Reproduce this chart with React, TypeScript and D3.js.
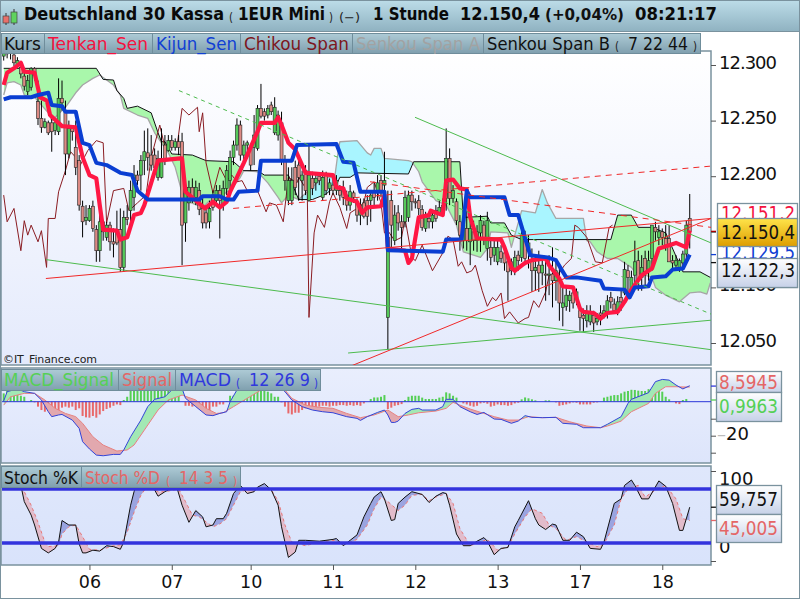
import React, { useEffect, useRef } from 'react';
import * as d3 from 'd3';

type Pt = [number, number];
type Candle = [number, number, number, number]; // open, high, low, close

// hourly candles, one list per trading day
const day05: Candle[] = [
  [12308,12320,12304,12315],[12316,12320,12306,12310],[12311,12322,12305,12318],[12309,12313,12299,12302],[12300,12307,12298,12304],
  [12298,12303,12288,12292],[12290,12295,12277,12281],[12276,12291,12273,12286],[12280,12298,12277,12297],[12297,12298,12286,12291],
  [12267,12286,12246,12252],[12252,12268,12239,12244],[12244,12252,12243,12249],[12248,12250,12237,12239],[12248,12252,12222,12240],
  [12241,12250,12237,12248],[12240,12288,12237,12270],[12270,12286,12259,12266],[12259,12268,12201,12220],[12220,12250,12216,12243],
  [12243,12246,12232,12240],[12226,12250,12201,12208],[12214,12219,12169,12174],[12173,12178,12145,12159],[12160,12174,12156,12163],
];
const day06: Candle[] = [
  [12160,12174,12159,12171],[12173,12178,12150,12153],[12152,12156,12123,12133],[12133,12169,12123,12159],[12159,12160,12142,12150],
  [12145,12159,12142,12156],[12156,12159,12133,12141],[12141,12153,12127,12139],[12152,12169,12138,12140],[12152,12171,12114,12118],
  [12118,12169,12114,12163],[12163,12174,12156,12161],[12169,12196,12156,12187],[12181,12210,12169,12201],[12201,12205,12192,12196],
  [12201,12219,12187,12214],[12214,12241,12201,12222],[12221,12243,12205,12217],[12219,12237,12205,12210],[12219,12225,12201,12208],
  [12199,12223,12196,12216],[12199,12243,12198,12216],[12228,12237,12210,12216],[12223,12237,12222,12232],
];
const day07: Candle[] = [
  [12232,12237,12223,12226],[12226,12234,12223,12231],[12231,12237,12219,12226],[12231,12239,12120,12156],[12158,12196,12141,12190],
  [12176,12196,12169,12190],[12190,12198,12176,12181],[12181,12196,12174,12190],[12187,12194,12165,12170],[12171,12183,12153,12158],
  [12167,12174,12153,12158],[12159,12178,12153,12171],[12183,12187,12169,12172],[12178,12192,12174,12187],[12187,12192,12144,12178],
  [12174,12196,12169,12189],[12189,12210,12183,12205],[12196,12223,12187,12217],[12217,12232,12210,12228],[12228,12252,12223,12246],
  [12246,12250,12214,12219],[12219,12232,12214,12228],[12228,12232,12216,12230],
];
const day10: Candle[] = [
  [12226,12228,12205,12210],[12226,12255,12210,12237],[12225,12264,12223,12261],[12261,12283,12252,12254],[12258,12261,12250,12254],
  [12255,12264,12252,12261],[12264,12267,12255,12258],[12239,12271,12237,12262],[12237,12259,12232,12255],[12248,12258,12210,12214],
  [12214,12219,12187,12196],[12178,12208,12174,12196],[12178,12208,12174,12196],[12208,12214,12183,12190],[12210,12214,12178,12199],
  [12196,12205,12178,12201],[12205,12210,12183,12187],[12178,12228,12177,12201],[12198,12204,12183,12189],[12194,12201,12187,12198],
  [12200,12201,12192,12196],[12181,12205,12178,12199],[12201,12204,12183,12187],[12189,12198,12183,12194],
];
const day11: Candle[] = [
  [12192,12198,12183,12187],[12187,12201,12183,12196],[12187,12192,12178,12183],[12190,12196,12174,12181],[12183,12187,12169,12174],
  [12174,12192,12169,12186],[12185,12187,12176,12181],[12176,12180,12159,12165],[12165,12180,12156,12174],[12176,12180,12162,12164],
  [12178,12183,12156,12164],[12178,12187,12159,12183],[12187,12194,12174,12181],[12186,12201,12178,12194],[12196,12201,12181,12187],
  [12192,12222,12186,12196],[12073,12187,12044,12145],[12178,12187,12133,12156],[12142,12174,12138,12165],[12167,12174,12151,12158],
  [12159,12165,12133,12154],[12159,12187,12154,12181],[12163,12187,12159,12183],[12183,12187,12169,12177],
];
const day12: Candle[] = [
  [12177,12180,12171,12176],[12178,12183,12165,12171],[12170,12174,12151,12154],[12153,12168,12150,12163],[12162,12165,12153,12159],
  [12159,12169,12153,12165],[12169,12174,12159,12162],[12167,12178,12165,12172],[12168,12180,12165,12174],[12180,12243,12169,12216],
  [12216,12225,12174,12180],[12180,12192,12176,12187],[12177,12180,12156,12160],[12159,12165,12133,12147],[12142,12165,12135,12156],
  [12153,12169,12133,12142],[12141,12168,12120,12153],[12150,12160,12133,12142],[12142,12156,12132,12150],[12149,12165,12132,12160],
  [12156,12160,12138,12145],[12135,12168,12124,12160],[12136,12142,12120,12127],[12129,12142,12123,12136],
];
const day13: Candle[] = [
  [12123,12142,12120,12136],[12132,12138,12122,12126],[12131,12135,12115,12122],[12123,12129,12088,12114],[12123,12126,12111,12115],
  [12117,12133,12111,12127],[12129,12133,12115,12124],[12127,12153,12123,12147],[12145,12151,12120,12126],[12133,12147,12117,12140],
  [12124,12135,12096,12115],[12115,12129,12097,12118],[12120,12133,12096,12113],[12113,12129,12102,12120],[12112,12124,12088,12111],
  [12111,12129,12093,12112],[12112,12136,12082,12106],[12106,12124,12088,12115],[12106,12120,12070,12086],[12082,12103,12065,12086],
  [12083,12102,12079,12093],[12088,12097,12078,12093],[12095,12099,12081,12086],[12090,12099,12084,12096],
];
const day17: Candle[] = [
  [12079,12084,12061,12073],[12075,12081,12060,12072],[12070,12084,12064,12078],[12069,12084,12066,12078],[12075,12079,12060,12068],
  [12069,12077,12066,12072],[12077,12084,12066,12075],[12076,12084,12072,12079],[12078,12093,12072,12088],[12091,12096,12081,12087],
  [12085,12090,12078,12079],[12078,12092,12075,12087],[12091,12097,12079,12087],[12095,12123,12093,12116],[12115,12120,12093,12109],
  [12097,12115,12093,12109],[12111,12142,12100,12123],[12124,12133,12097,12106],[12109,12129,12097,12118],[12126,12133,12102,12114],
  [12115,12133,12106,12124],[12126,12156,12115,12156],[12154,12159,12142,12150],[12145,12156,12138,12150],
];
const day18: Candle[] = [
  [12150,12153,12138,12145],[12144,12156,12133,12138],[12144,12156,12123,12123],[12124,12129,12117,12122],[12120,12129,12115,12124],
  [12118,12126,12114,12124],[12122,12133,12117,12130],[12130,12160,12124,12156],[12162,12184,12135,12150.4],
];
const candles = [...day05, ...day06, ...day07, ...day10, ...day11, ...day12, ...day13, ...day17, ...day18];

const tenkan: Pt[] = [
  [0,12282],[1,12293],[3,12297],[5,12302],[6,12294],[9,12293],[10.6,12271],[12.6,12268],[13.5,12255],[17,12245],[21,12244],[23,12217],[25,12201],[27,12198],
  [28,12174],[29,12152],[33,12151],[34,12143],[36,12145],[38,12165],[40,12167],[41,12174],[45,12214],[51.4,12216],[52,12216],[53,12186],[56,12178],[58.7,12171],
  [61,12177],[63,12172],[65,12177],[66,12186],[70,12212],[74,12240],[75,12248],[79,12248],[80,12253],[81,12246],[83,12230],[85,12224],[88,12203],[96,12201],
  [97,12190],[99,12189],[100,12180],[103,12177],[104.5,12167],[106,12172],[110,12173],[111,12183],[112,12135],[117,12133],[118,12122],[119,12126],[121,12163],
  [124,12165],[124.5,12169],[128,12165],[129,12196],[131,12197],[133,12189],[135,12188],[136,12163],[138,12144],[145,12143],[146,12136],[148,12118],[149,12115],
  [152,12122],[154,12124.5],[158,12126],[159,12120],[162,12108],[163,12101],[166,12100],[168,12081],[169,12078],[172,12077],[174,12072],[176,12077],[179,12078],
  [181,12087],[183,12098],[186,12111],[189,12117],[191,12135],[194,12138],[196,12140],[199,12136],[200,12151.2],
];
const kijun: Pt[] = [
  [0,12269],[2,12271],[8,12271],[10,12273],[13,12275],[14,12264],[17,12263],[18,12258],[21,12258],[23,12230],[25,12228],[27,12212],[30,12210],[34,12203],[37.4,12201],
  [39,12187],[42,12179],[57,12179],[58,12182],[63,12182],[65,12179],[67,12179],[68.5,12186],[74,12187],[75,12214],[84,12214],[85.5,12228],[97,12229],[99,12213],
  [102,12212],[104,12186],[111,12186],[112,12133.5],[128,12132],[129,12143],[133.5,12143],[135,12187],[136,12181],[146,12181],[147.5,12165],[150,12165],[153.5,12129],
  [158.5,12127],[161,12124.5],[164,12109],[167,12109],[174,12106],[175,12099],[181,12098],[182.5,12091],[184,12100],[188,12101],[189,12109],[193,12110],[195,12116],
  [198,12117],[200,12129.5],
];
const chikou: Pt[] = [
  [0,12183],[1,12159],[3,12171],[5,12133],[6,12160],[7,12147],[8,12156],[10,12141],[11,12151],[12.5,12118],[13,12162],[15,12162],[16,12186],[18,12205],[19.5,12222],
  [21,12217],[22,12208],[24.5,12223],[27,12232],[29,12230],[30,12158],[32,12187],[35,12189],[36.5,12169],[39,12176],[41.5,12183],[43,12217],[45.5,12246],[47,12226],
  [48.5,12232],[50.5,12226],[52,12261],[54,12255],[56.5,12262],[57,12240],[58,12257],[59,12212],[61,12185],[63,12208],[65,12196],[66.5,12201],[68,12195],[69.5,12196],
  [71,12187],[74,12187],[76.5,12168],[77.5,12176],[79.5,12174],[81.5,12159],[83,12199],[85.5,12194],[86,12199],[88.5,12187],[89,12073],[90.5,12149],[91.5,12165],
  [93.5,12154],[95,12177],[96,12185],[98,12172],[100,12153],[101,12167],[103,12171],[105,12176],[106,12190],[108,12195],[110,12176],[111,12149],[112,12151],[114,12142],
  [116,12145],[117,12162],[119,12127],[120,12124],[122,12138],[125,12115],[128,12131],[129.5,12146],[131,12143],[132.5,12119],[133.5,12123],[135,12113],[136.5,12115],
  [137.5,12120],[139.5,12097],[141,12083],[142.5,12091],[143.5,12088],[145,12095],[146,12072],[147.5,12078],[150,12068],[152,12072],[153,12073],[154.5,12088],[156,12082],
  [158,12096],[159,12111],[162,12113],[163.5,12120],[165.5,12126],[166.5,12156],[167.5,12154],[170,12145],[172.5,12123],[174.5,12122],[176.5,12154],[177.5,12156],
];
const senkouA: Pt[] = [
  [0,12273],[1,12284],[3,12285],[5,12282],[6,12273],[9,12271],[13,12257],[14,12250],[18,12262],[21,12275],[23,12282],[26,12288],[28,12291],[32,12282],[34,12273],[35,12261],
  [39,12255],[42,12252],[44,12239],[46,12230],[48,12221],[50,12208],[52,12185],[54,12177],[58,12172],[60,12178],[63,12180],[65,12186],[66,12187],[69,12199],[70,12205],
  [74,12204],[77,12194],[80,12181],[81,12176],[83,12183],[86,12179],[90,12190],[93,12199],[96.5,12199],[97.5,12222],[98,12231],[103,12232],[106,12221],[107,12219],[108,12225],
  [110,12225],[111,12216],[118,12214],[119,12213],[121,12204],[122,12195],[126,12178],[129,12174],[132,12156],[134,12132],[139,12127],[141,12135],[142,12150],[147,12149],
  [148,12136],[151,12169],[155,12167],[157,12188],[158.5,12176],[161,12162],[169,12162],[170,12142],[171,12141],[173,12132],[176,12126],[179,12126],[182,12120],[183,12118],
  [184,12114],[189,12109],[190,12100],[193,12093],[197,12087],[200,12095],[203,12096],[205,12094],[206,12104],
];
const senkouB: Pt[] = [
  [0,12297],[27,12297],[29,12287],[32,12286.5],[33,12277],[35,12270],[36,12261],[39,12263],[43,12257],[45,12239],[46,12231],[47,12231],[49,12220],[55,12219],[59,12214],
  [67,12213],[70,12205],[74,12205],[76,12201],[83,12201],[86,12179],[90,12179],[94,12184],[97,12192],[98,12199],[101,12199],[103,12203],[118,12202],[119.5,12213],[133,12213],
  [134,12163],[141,12164],[142,12158],[146,12158],[148,12147],[151,12143],[177,12143],[179,12165],[183,12165],[185,12154],[189,12154],[193,12149],[198,12114],[203,12114],[206,12109],
];

// trend lines drawn on the chart: start and end as bar, price
const greenLines: [Pt, Pt][] = [
  [[12.3,12125],[206.2,12044]],
  [[119.9,12253],[206.2,12140]],
  [[100.4,12041],[206.2,12070.5]],
];
const greenDashed: [Pt, Pt][] = [[[51.1,12277],[206.2,12076]]];
const redLines: [Pt, Pt][] = [
  [[12.3,12108],[206.2,12162]],
  [[101,12029],[206.2,12162]],
];
const redDashed: [Pt, Pt][] = [
  [[66.9,12171],[205.9,12209]],
  [[106.8,12195],[206.2,12154]],
];

const priceTicks = [12300, 12250, 12200, 12150, 12100, 12050];
const dayBars = [25, 49, 72, 96, 120, 144, 168, 192];
const dayLabels = ['06', '07', '10', '11', '12', '13', '17', '18'];

const macdHist = [
  4.9,7.8,6.9,6.9,6.9,3.5,2.9,0,1,-0.4,-2.9,-4.9,-5.9,-5.5,-6.3,-5.9,-4.9,-3.5,-2.9,-3.5,-2.9,-4.9,-3.9,-8.4,-9.2,-9.4,-8.4,-9.4,-7.5,-5.5,-4.3,-3.5,-2.4,-1.6,-2,
  1,2.9,7,7.5,7.5,7.5,7.5,7.5,7.5,7.5,7.5,7.5,7.5,7.5,7.5,7.5,7.5,0,-2.4,-2.4,-2.9,-2.4,-3.5,-3.5,-4.3,-4.9,-2.9,-2.9,-1.6,-1.6,0.4,3.5,3.5,6.9,6.9,6.9,6.9,6.9,6.9,6.9,6.9,
  6.3,5.9,4.9,2.9,2.9,-0.4,-2.9,-6.9,-7.5,-6.5,-6.5,-4.9,-3.9,-4.3,-3.9,-3.9,-2.9,-2.4,-2.4,-2.9,-2.4,-2.4,-2,-2,-2.4,-2,-2.4,-2,-2.4,-1,0,1.6,2.5,2.5,2.9,3.9,-4.3,-3.5,-2.4,-2,-1.4,
  1,2.9,3.5,3.5,3.5,2.4,1.6,1.6,1.6,1.6,2.4,2.9,5.5,4.9,3.5,2.4,0,-1,-1.6,-2.4,-2.9,-2.4,-1,-0.6,-1.2,-2.9,-2.4,-1.6,-2,-2,-2.4,-2,-1,-0.6,1.4,2.5,2,1.4,0.8,0,0,0.8,0.8,0,
  -0.4,-2.4,-2,-1.6,-1,-0.4,-0.6,-1.6,-1.6,-1.6,-1.6,-0.6,-0.4,0,2.4,2.9,3.5,3.9,3.9,4.9,5.9,6.3,7,6.9,6.5,6.3,6.3,7.4,7.4,7.4,6.9,5.9,2.9,1.4,0,-1,-1.4,1,1.6,
];
const macdLine: Pt[] = [
  [0,0.4],[1,5.9],[4,7.5],[6,5.9],[9,4.9],[11,1],[13,-5.9],[14,-8.8],[16,-7.8],[17,-7.5],[20,-10.8],[22,-15.7],[23,-23.5],[25,-27.8],[27,-31.4],[29,-31.8],[32,-31],[34,-31],
  [35,-28.4],[37,-20.6],[40,-10.8],[42,-2.9],[44,1.4],[47,2.9],[49,6.9],[52,7.8],[53,2],[56,-2.9],[59,-7.8],[61,-8.2],[63,-6.9],[65,-5.9],[66,0],[68,6.9],[72,10.8],[77,11.8],
  [80,9.8],[82,5.9],[84,1],[87,-2.9],[90,-4.9],[93,-5.9],[96,-6.5],[100,-8.8],[103,-9.8],[104,-11],[106,-8.8],[109,-6.3],[111,-4.9],[112,-7.8],[113,-12.2],[114,-12.2],[115,-11.4],
  [117,-6.9],[119,-4.5],[121,-3.9],[122,-4.9],[126,-4.9],[128,-2.9],[129,1.4],[131,1.4],[133,-2.9],[136,-5.9],[138,-7.5],[140,-6.3],[143,-10.2],[145,-10.4],[148,-12.7],[150,-11.4],
  [152,-8.2],[154,-9.2],[157,-9.4],[161,-9.2],[163,-12.7],[167,-13.3],[169,-15.3],[174,-15.3],[176,-13.3],[180,-8.8],[182,-1],[183,1.4],[188,5.3],[190,11.8],[192,13.1],[194,12.7],
  [196,9.8],[198,7.5],[200,9.4],
];
const macdSignal: Pt[] = [
  [0,-2],[2,2.9],[6,4.9],[9,4.9],[12,1],[15,-3.9],[18,-6.9],[21,-8.8],[23,-12.7],[26,-20.6],[29,-25.5],[33,-29],[36,-28.4],[38,-25.5],[41,-16.7],[45,-4.9],[48,1],[52,3.9],[56,1],
  [59,-3.9],[62,-6.9],[64,-6.5],[67,-2.9],[71,2],[75,6.9],[79,7.8],[82,6.9],[84,2],[88,-2],[92,-3.3],[96,-3.9],[100,-6.9],[104,-9.4],[108,-7.8],[112,-4.9],[115,-8.8],[118,-7.8],
  [121,-6.5],[126,-5.5],[129,-3.9],[131,-0.4],[133,-2],[136,-4.3],[140,-6.9],[143,-8.8],[147,-10.8],[150,-10.8],[153,-8.8],[157,-9.4],[161,-9.2],[165,-11.8],[170,-14.3],[174,-15.3],
  [176,-14.3],[180,-11.4],[183,-5.9],[188,-1],[190,4.9],[193,8.8],[196,8.8],[200,8.6],
];

const stochK: Pt[] = [
  [0,100],[3,95],[5,84],[6,66],[8,51],[9,40],[11,14],[13,9],[15,14],[16,21],[17,45],[19,40],[21,40],[22,19],[23,9],[24,9],[26,12],[28,11],[30,17],[32,16],[34,13],[35,21],[37,62],
  [38,77],[40,95],[42,99],[44,79],[45,72],[47,77],[48,79],[50,88],[52,62],[54,43],[56,56],[58,49],[59,38],[61,40],[62,47],[64,47],[65,53],[67,75],[69,84],[71,75],[73,77],[74,82],
  [76,86],[78,79],[80,62],[81,38],[83,4],[85,10],[86,23],[88,23],[92,22],[96,24],[97,25],[99,17],[101,23],[103,29],[105,49],[107,64],[108,71],[110,77],[111,69],[113,45],[114,46],
  [115,64],[117,71],[119,77],[122,74],[124,65],[126,72],[128,76],[129,75],[130,62],[132,30],[134,17],[136,17],[138,22],[140,26],[141,22],[143,7],[145,14],[147,15],[149,38],[150,45],
  [153,67],[155,47],[156,40],[158,35],[160,41],[161,40],[163,23],[165,23],[167,32],[169,27],[171,14],[174,13],[175,21],[178,64],[180,69],[181,84],[183,90],[184,84],[186,69],[188,69],
  [191,89],[193,83],[195,64],[197,34],[198,34],[200,59.8],
];
const stochD: Pt[] = [
  [0,100],[3,92],[6,77],[8,62],[10,43],[12,21],[13,16],[16,17],[17,30],[19,38],[21,40],[23,27],[25,13],[28,12],[32,17],[34,18],[36,32],[38,54],[40,73],[42,84],[45,77],[47,77],[51,80],
  [53,66],[55,51],[57,49],[61,38],[63,41],[65,47],[67,62],[69,77],[71,79],[75,80],[78,79],[80,67],[82,40],[84,21],[88,17],[92,21],[96,23],[100,19],[103,24],[106,40],[108,58],[110,71],
  [112,66],[115,56],[117,62],[119,73],[122,74],[124,67],[126,71],[129,75],[131,64],[133,36],[136,17],[139,21],[141,24],[144,12],[147,16],[149,30],[152,49],[154,58],[157,53],[159,40],
  [161,36],[164,23],[167,27],[170,21],[173,16],[175,19],[178,40],[180,69],[182,80],[185,84],[187,71],[190,79],[193,84],[196,69],[198,47],[200,45],
];
const stochBands = [80, 20];

const last = { tenkan: 12151.2, close: 12150.4, kijun: 12129.5, chikouBox: 12122.3, macdSignal: 8.5945, macdDiff: 0.9963, stochK: 59.757, stochD: 45.005 };

const font = '"DejaVu Sans", sans-serif';
const frame = '#7a929e';
const de = d3.formatLocale({ decimal: ',', thousands: '.', grouping: [3], currency: ['', ''] });

const App: React.FC = () => {
  const svgRef = useRef<SVGSVGElement>(null);

  useEffect(() => {
    if (!svgRef.current) return;
    const svg = d3.select(svgRef.current);
    svg.selectAll('*').remove();
    const defs = svg.append('defs');

    const grad = (id: string, top: string, bottom: string) => {
      const g = defs.append('linearGradient').attr('id', id).attr('x1', 0).attr('y1', 0).attr('x2', 0).attr('y2', 1);
      g.append('stop').attr('offset', 0).attr('stop-color', top);
      g.append('stop').attr('offset', 1).attr('stop-color', bottom);
    };
    grad('titleBg', '#bcdce8', '#8fb2c1');
    grad('tabBg', '#aecbd6', '#7f9fae');
    grad('mainBg', '#ffffff', '#e4eafc');
    grad('macdBg', '#e9eefd', '#dde5fb');
    grad('stochBg', '#dfe7fb', '#d9e3fb');
    grad('goldBg', '#ffe44a', '#dd9d00');
    grad('boxBg', '#ffffff', '#c6d1e8');

    const panelRight = 711;
    const main = { top: 53, bottom: 365 };
    const macdPanel = { top: 368, bottom: 463 };
    const stochPanel = { top: 466, bottom: 565 };

    const x = d3.scaleLinear().domain([0, 206]).range([3.7, 710.3]);
    const yPrice = d3.scaleLinear().domain([12300, 12050]).range([65, 343]);
    const yMacd = d3.scaleLinear().domain([0, -30]).range([401.7, 452.7]);
    const yStoch = d3.scaleLinear().domain([100, 0]).range([471, 561]);

    svg.append('rect').attr('width', 800).attr('height', 600).attr('fill', '#fff');

    const panelBox = (top: number, bottom: number, fill: string) =>
      svg.append('rect').attr('x', 1).attr('y', top).attr('width', panelRight - 1).attr('height', bottom - top)
        .attr('fill', `url(#${fill})`).attr('stroke', frame).attr('stroke-width', 1.5);
    panelBox(main.top - 2, main.bottom, 'mainBg');
    panelBox(macdPanel.top, macdPanel.bottom, 'macdBg');
    panelBox(stochPanel.top, stochPanel.bottom, 'stochBg');

    const clip = (id: string, top: number, bottom: number) =>
      defs.append('clipPath').attr('id', id).append('rect').attr('x', 2).attr('y', top).attr('width', panelRight - 2).attr('height', bottom - top);
    clip('clipMain', main.top, main.bottom);
    clip('clipMacd', macdPanel.top, macdPanel.bottom);
    clip('clipStoch', stochPanel.top, stochPanel.bottom);

    // band between two lines, coloured by which one is on top
    const twoTone = (g: any, a: Pt[], b: Pt[], y: d3.ScaleLinear<number, number>, above: string, below: string, key: string, top: number, bottom: number) => {
      const line = d3.line<Pt>().x(d => x(d[0])).y(d => y(d[1]));
      const poly = `${line(a)}L${(line([...b].reverse()) as string).slice(1)}Z`;
      const upper = d3.area<Pt>().x(d => x(d[0])).y0(top).y1(d => y(d[1]));
      const lower = d3.area<Pt>().x(d => x(d[0])).y0(bottom).y1(d => y(d[1]));
      defs.append('clipPath').attr('id', `${key}Up`).append('path').attr('d', upper(b));
      defs.append('clipPath').attr('id', `${key}Down`).append('path').attr('d', lower(b));
      g.append('path').attr('d', poly).attr('fill', above).attr('fill-rule', 'evenodd').attr('clip-path', `url(#${key}Up)`);
      g.append('path').attr('d', poly).attr('fill', below).attr('fill-rule', 'evenodd').attr('clip-path', `url(#${key}Down)`);
    };

    const drawLine = (g: any, pts: Pt[], y: d3.ScaleLinear<number, number>, color: string, width: number, dash?: string) =>
      g.append('path').attr('d', d3.line<Pt>().x(d => x(d[0])).y(d => y(d[1]))(pts))
        .attr('fill', 'none').attr('stroke', color).attr('stroke-width', width)
        .attr('stroke-linejoin', 'round').attr('stroke-dasharray', dash ?? null);

    // price panel
    const gMain = svg.append('g').attr('clip-path', 'url(#clipMain)');
    twoTone(gMain, senkouA, senkouB, yPrice, '#a9f5ff', '#a9f7ab', 'cloud', main.top, main.bottom);
    drawLine(gMain, senkouA, yPrice, '#a6a6a6', 1.3);
    drawLine(gMain, senkouB, yPrice, '#111', 1);
    drawLine(gMain, chikou, yPrice, '#8a1c22', 1);

    candles.forEach((c, i) => {
      const [o, h, l, cl] = c;
      gMain.append('line').attr('x1', x(i)).attr('x2', x(i)).attr('y1', yPrice(h)).attr('y2', yPrice(l)).attr('stroke', '#000').attr('stroke-width', 1);
      const topY = yPrice(Math.max(o, cl));
      const botY = yPrice(Math.min(o, cl));
      gMain.append('rect').attr('x', x(i) - 1.5).attr('y', topY).attr('width', 3).attr('height', Math.max(botY - topY, 1))
        .attr('fill', cl >= o ? '#55c95a' : '#dc8a84').attr('stroke', '#222').attr('stroke-width', 0.6);
    });

    drawLine(gMain, tenkan, yPrice, '#ff1744', 4.2);
    drawLine(gMain, kijun, yPrice, '#0a3ed2', 4);

    greenLines.forEach(l => drawLine(gMain, l, yPrice, '#4dbb4d', 1));
    greenDashed.forEach(l => drawLine(gMain, l, yPrice, '#4dbb4d', 1, '4,4'));
    redLines.forEach(l => drawLine(gMain, l, yPrice, '#f02828', 1));
    redDashed.forEach(l => drawLine(gMain, l, yPrice, '#f02828', 1, '6,5'));

    gMain.append('text').attr('x', 3).attr('y', 363).attr('font-family', font).attr('font-size', 11).attr('fill', '#222')
      .attr('textLength', 94).text('©IT_Finance.com');

    // MACD panel
    const gMacd = svg.append('g').attr('clip-path', 'url(#clipMacd)');
    macdHist.forEach((v, i) => {
      gMacd.append('rect').attr('x', x(i) - 1).attr('width', 2).attr('y', yMacd(Math.max(v, 0))).attr('height', Math.abs(yMacd(v) - yMacd(0)))
        .attr('fill', v >= 0 ? '#55cf55' : '#e8686a');
    });
    twoTone(gMacd, macdLine, macdSignal, yMacd, '#a2e8b4', '#e2a8ae', 'macd', macdPanel.top, macdPanel.bottom);
    drawLine(gMacd, macdSignal, yMacd, '#e88080', 1);
    drawLine(gMacd, macdLine, yMacd, '#3344d8', 1);
    gMacd.append('line').attr('x1', 2).attr('x2', panelRight).attr('y1', yMacd(0)).attr('y2', yMacd(0)).attr('stroke', '#2a35d8').attr('stroke-width', 1);

    // stochastic panel
    const gStoch = svg.append('g').attr('clip-path', 'url(#clipStoch)');
    twoTone(gStoch, stochK, stochD, yStoch, '#9aa4e0', '#e2bccb', 'stoch', stochPanel.top, stochPanel.bottom);
    drawLine(gStoch, stochD, yStoch, '#e87878', 1, '3,3');
    drawLine(gStoch, stochK, yStoch, '#111', 1);
    stochBands.forEach(b => {
      gStoch.append('line').attr('x1', 2).attr('x2', panelRight).attr('y1', yStoch(b)).attr('y2', yStoch(b)).attr('stroke', '#3333dd').attr('stroke-width', 3.6);
    });

    // axes
    const styleAxis = (g: any) => {
      g.select('.domain').remove();
      g.selectAll('line').attr('stroke', '#555');
      g.selectAll('text').attr('font-family', font).attr('font-size', 18).attr('fill', '#111');
    };
    const gPrice = svg.append('g').attr('transform', `translate(${panelRight},0)`)
      .call(d3.axisRight(yPrice).tickValues(priceTicks).tickSize(5).tickPadding(3).tickFormat(d => de.format(',.0f')(d as number)) as any);
    styleAxis(gPrice);
    gPrice.selectAll('text').attr('textLength', 58).attr('dy', '0.18em');

    const gMacdAxis = svg.append('g').attr('transform', `translate(${panelRight},0)`)
      .call(d3.axisRight(yMacd).tickValues([-10, -20, -30]).tickSize(5).tickPadding(1).tickFormat(() => '') as any);
    styleAxis(gMacdAxis);
    const minus = gMacdAxis.selectAll('text').filter((d: any) => d === -20).attr('dy', '0.2em');
    minus.append('tspan').attr('fill', '#bbb').text('–');
    minus.append('tspan').text('20');

    const gStochAxis = svg.append('g').attr('transform', `translate(${panelRight},0)`)
      .call(d3.axisRight(yStoch).tickValues([100, 0]).tickSize(5).tickPadding(3).tickFormat(d => String(d)) as any);
    styleAxis(gStochAxis);
    gStochAxis.selectAll('text').attr('y', (d: any) => (d === 100 ? 8 : -14));

    const gDays = svg.append('g').attr('transform', `translate(0,${stochPanel.bottom})`)
      .call(d3.axisBottom(x).tickValues(dayBars).tickSize(5).tickPadding(6).tickFormat((_, i) => dayLabels[i]) as any);
    styleAxis(gDays);
    gDays.selectAll('text').attr('font-size', 17.5);

    // outer frame and header
    svg.append('rect').attr('x', 0.5).attr('y', 0.5).attr('width', 799).attr('height', 598).attr('fill', 'none').attr('stroke', frame);
    svg.append('rect').attr('x', 0.5).attr('y', 0.5).attr('width', 799).attr('height', 31).attr('fill', 'url(#titleBg)').attr('stroke', frame);

    const label = (text: string, lx: number, ly: number, len: number, color: string, size: number, weight = 'normal') =>
      svg.append('text').attr('x', lx).attr('y', ly).attr('font-family', font).attr('font-size', size).attr('font-weight', weight)
        .attr('fill', color).attr('textLength', len).attr('lengthAdjust', 'spacingAndGlyphs').text(text);

    // icon in the title bar
    const icon = (ix: number, wt: number, top: number, bot: number, wb: number, fill: string) => {
      svg.append('line').attr('x1', ix).attr('x2', ix).attr('y1', wt).attr('y2', wb).attr('stroke', '#333');
      svg.append('rect').attr('x', ix - 3).attr('y', top).attr('width', 6).attr('height', bot - top).attr('fill', fill).attr('stroke', '#444').attr('stroke-width', 0.7);
    };
    icon(6, 13, 16, 23, 25, '#e8706a');
    icon(14, 9, 12, 23, 25, '#5fd35f');

    label('Deutschland 30 Kassa', 24, 20, 200, '#0a0a0a', 18, 'bold');
    label('(', 229, 22, 4, '#222', 13);
    label('1EUR Mini', 238, 20, 87, '#0a0a0a', 18, 'bold');
    label(')', 329, 22, 4, '#222', 13);
    label('(−)', 339, 22, 21, '#222', 13);
    label('1 Stunde', 373, 20, 76, '#0a0a0a', 18, 'bold');
    label('12.150,4', 460, 20, 80, '#0a0a0a', 18, 'bold');
    label('(+0,04%)', 545, 20, 79, '#111', 16, 'bold');
    label('08:21:17', 635, 20, 82, '#0a0a0a', 18, 'bold');

    const tab = (x0: number, x1: number, y0: number, y1: number) =>
      svg.append('rect').attr('x', x0 + 0.5).attr('y', y0 + 0.5).attr('width', x1 - x0).attr('height', y1 - y0)
        .attr('fill', 'url(#tabBg)').attr('stroke', '#6f8d9b');

    // price legend
    [[1, 44], [44, 152], [152, 240], [240, 352], [352, 483], [483, 700]].forEach(([a, b]) => tab(a, b, 33, 53));
    label('Kurs', 4, 50, 37, '#111', 17);
    label('Tenkan_Sen', 48, 50, 100, '#f4123f', 17);
    label('Kijun_Sen', 156, 50, 81, '#1040d4', 17);
    label('Chikou Span', 244, 50, 105, '#7d1620', 17);
    label('Senkou Span A', 356, 50, 124, '#a2a2a2', 17);
    label('Senkou Span B', 487, 50, 123, '#111', 17);
    label('(', 615, 51, 4, '#222', 12);
    label('7 22 44', 628, 50, 60, '#111', 17);
    label(')', 693, 51, 4, '#222', 12);

    // macd legend
    [[1, 118], [118, 175], [175, 320]].forEach(([a, b]) => tab(a, b, 369, 390));
    label('MACD_Signal', 4, 386, 110, '#55d055', 17);
    label('Signal', 122, 386, 50, '#e46666', 17);
    label('MACD', 179, 386, 52, '#3038dd', 17);
    label('(', 236, 388, 4, '#3038dd', 12);
    label('12 26 9', 249, 386, 61, '#3038dd', 17);
    label(')', 314, 388, 4, '#3038dd', 12);

    // stochastic legend
    [[1, 81], [81, 240]].forEach(([a, b]) => tab(a, b, 466, 487));
    label('Stoch %K', 4, 484, 74, '#111', 17);
    label('Stoch %D', 85, 484, 75, '#e46666', 17);
    label('(', 166, 486, 4, '#e46666', 12);
    label('14 3 5', 179, 484, 49, '#e46666', 17);
    label(')', 233, 486, 4, '#e46666', 12);

    // small markers on the axes for the current values
    const marker = (my: number, color: string) =>
      svg.append('line').attr('x1', panelRight).attr('x2', panelRight + 5).attr('y1', my).attr('y2', my).attr('stroke', color).attr('stroke-width', 1.3);
    marker(yPrice(last.close), '#a00');
    marker(yPrice(last.kijun), '#1040d4');
    marker(yPrice(last.chikouBox), '#111');
    marker(yMacd(last.macdSignal) - 1, '#3038dd');
    marker(yMacd(last.macdDiff), '#55d055');
    marker(yStoch(last.stochK), '#111');
    marker(yStoch(last.stochD), '#e46666');

    const box = (bx: number, by: number, bw: number, bh: number, fill: string) =>
      svg.append('rect').attr('x', bx + 0.5).attr('y', by + 0.5).attr('width', bw).attr('height', bh).attr('fill', fill).attr('stroke', frame).attr('stroke-width', 1.3);

    // value boxes right of the price panel
    const price1 = de.format(',.1f');
    box(717, 203, 80, 84, '#fff');
    label(price1(last.tenkan), 721, 220, 74, '#f4123f', 19);
    label(price1(last.kijun), 721, 259, 74, '#1040d4', 19);
    box(717, 218, 80, 28, 'url(#goldBg)');
    label(price1(last.close), 721, 239, 74, '#111', 19);
    box(717, 258, 80, 29, 'url(#boxBg)');
    label(price1(last.chikouBox), 721, 277, 74, '#111', 19);

    // value boxes right of the MACD panel
    const indicator4 = de.format('.4f');
    box(716, 371, 65, 21, 'url(#boxBg)');
    label(indicator4(last.macdSignal), 719, 389, 59, '#e46666', 19);
    box(716, 392, 65, 29, 'url(#boxBg)');
    label(indicator4(last.macdDiff), 719, 413, 59, '#55d055', 19);

    // value boxes right of the stochastic panel
    const indicator3 = de.format('.3f');
    box(716, 485, 65, 29, 'url(#boxBg)');
    label(indicator3(last.stochK), 719, 506, 59, '#111', 19);
    box(716, 514, 65, 28, 'url(#boxBg)');
    label(indicator3(last.stochD), 719, 535, 59, '#e46666', 19);
  }, []);

  return <svg ref={svgRef} width={800} height={600} style={{ position: 'fixed', left: 0, top: 0, display: 'block' }} />;
};

export default App;
